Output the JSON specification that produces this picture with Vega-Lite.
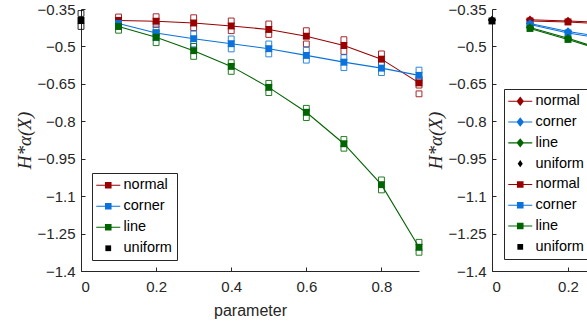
{
  "$schema": "https://vega.github.io/schema/vega-lite/v6.json",
  "autosize": {"type": "none"},
  "padding": {"left": 81, "top": 9, "right": 506, "bottom": 318},
  "background": "white",
  "config": {
    "view": {"stroke": null},
    "font": "Liberation Sans",
    "axis": {
      "grid": false,
      "domainColor": "#262626",
      "tickColor": "#262626",
      "labelColor": "#262626",
      "titleColor": "#262626",
      "labelFont": "Liberation Sans",
      "titleFont": "Liberation Sans",
      "labelFontSize": 15,
      "titleFontSize": 16,
      "titleFontWeight": "normal",
      "tickSize": -4,
      "domainWidth": 1,
      "tickWidth": 1
    },
    "legend": {
      "orient": "bottom-left",
      "offset": 11,
      "padding": 5,
      "rowPadding": 6,
      "symbolOffset": 4,
      "labelOffset": 8,
      "labelFont": "Liberation Sans",
      "labelFontSize": 14.5,
      "labelColor": "#000000",
      "symbolSize": 144,
      "symbolStrokeWidth": 0,
      "symbolOpacity": 1,
      "strokeColor": "#262626",
      "fillColor": "white"
    }
  },
  "datasets": {
    "meansA": [
      {"series": "uniform", "x": 0, "y": -0.396},
      {"series": "normal", "x": 0.1, "y": -0.396},
      {"series": "normal", "x": 0.2, "y": -0.399},
      {"series": "normal", "x": 0.3, "y": -0.406},
      {"series": "normal", "x": 0.4, "y": -0.418},
      {"series": "normal", "x": 0.5, "y": -0.432},
      {"series": "normal", "x": 0.6, "y": -0.459},
      {"series": "normal", "x": 0.7, "y": -0.496},
      {"series": "normal", "x": 0.8, "y": -0.551},
      {"series": "normal", "x": 0.9, "y": -0.646},
      {"series": "corner", "x": 0.1, "y": -0.408},
      {"series": "corner", "x": 0.2, "y": -0.446},
      {"series": "corner", "x": 0.3, "y": -0.469},
      {"series": "corner", "x": 0.4, "y": -0.489},
      {"series": "corner", "x": 0.5, "y": -0.509},
      {"series": "corner", "x": 0.6, "y": -0.536},
      {"series": "corner", "x": 0.7, "y": -0.563},
      {"series": "corner", "x": 0.8, "y": -0.587},
      {"series": "corner", "x": 0.9, "y": -0.616},
      {"series": "line", "x": 0.1, "y": -0.42},
      {"series": "line", "x": 0.2, "y": -0.463},
      {"series": "line", "x": 0.3, "y": -0.517},
      {"series": "line", "x": 0.4, "y": -0.58},
      {"series": "line", "x": 0.5, "y": -0.664},
      {"series": "line", "x": 0.6, "y": -0.764},
      {"series": "line", "x": 0.7, "y": -0.89},
      {"series": "line", "x": 0.8, "y": -1.054},
      {"series": "line", "x": 0.9, "y": -1.305}
    ],
    "trialsA": [
      {"series": "uniform", "x": 0, "y": -0.368},
      {"series": "uniform", "x": 0, "y": -0.42},
      {"series": "normal", "x": 0.1, "y": -0.382},
      {"series": "normal", "x": 0.1, "y": -0.405},
      {"series": "normal", "x": 0.2, "y": -0.381},
      {"series": "normal", "x": 0.2, "y": -0.412},
      {"series": "normal", "x": 0.3, "y": -0.385},
      {"series": "normal", "x": 0.3, "y": -0.425},
      {"series": "normal", "x": 0.4, "y": -0.398},
      {"series": "normal", "x": 0.4, "y": -0.437},
      {"series": "normal", "x": 0.5, "y": -0.41},
      {"series": "normal", "x": 0.5, "y": -0.452},
      {"series": "normal", "x": 0.6, "y": -0.437},
      {"series": "normal", "x": 0.6, "y": -0.49},
      {"series": "normal", "x": 0.7, "y": -0.473},
      {"series": "normal", "x": 0.7, "y": -0.52},
      {"series": "normal", "x": 0.8, "y": -0.53},
      {"series": "normal", "x": 0.8, "y": -0.565},
      {"series": "normal", "x": 0.9, "y": -0.63},
      {"series": "normal", "x": 0.9, "y": -0.655},
      {"series": "normal", "x": 0.9, "y": -0.69},
      {"series": "corner", "x": 0.1, "y": -0.395},
      {"series": "corner", "x": 0.1, "y": -0.42},
      {"series": "corner", "x": 0.2, "y": -0.43},
      {"series": "corner", "x": 0.2, "y": -0.465},
      {"series": "corner", "x": 0.3, "y": -0.45},
      {"series": "corner", "x": 0.3, "y": -0.49},
      {"series": "corner", "x": 0.4, "y": -0.47},
      {"series": "corner", "x": 0.4, "y": -0.51},
      {"series": "corner", "x": 0.5, "y": -0.49},
      {"series": "corner", "x": 0.5, "y": -0.53},
      {"series": "corner", "x": 0.6, "y": -0.515},
      {"series": "corner", "x": 0.6, "y": -0.555},
      {"series": "corner", "x": 0.7, "y": -0.545},
      {"series": "corner", "x": 0.7, "y": -0.585},
      {"series": "corner", "x": 0.8, "y": -0.565},
      {"series": "corner", "x": 0.8, "y": -0.605},
      {"series": "corner", "x": 0.9, "y": -0.595},
      {"series": "corner", "x": 0.9, "y": -0.635},
      {"series": "line", "x": 0.1, "y": -0.405},
      {"series": "line", "x": 0.1, "y": -0.435},
      {"series": "line", "x": 0.2, "y": -0.445},
      {"series": "line", "x": 0.2, "y": -0.485},
      {"series": "line", "x": 0.3, "y": -0.5},
      {"series": "line", "x": 0.3, "y": -0.54},
      {"series": "line", "x": 0.4, "y": -0.565},
      {"series": "line", "x": 0.4, "y": -0.6},
      {"series": "line", "x": 0.5, "y": -0.648},
      {"series": "line", "x": 0.5, "y": -0.685},
      {"series": "line", "x": 0.6, "y": -0.748},
      {"series": "line", "x": 0.6, "y": -0.785},
      {"series": "line", "x": 0.7, "y": -0.873},
      {"series": "line", "x": 0.7, "y": -0.908},
      {"series": "line", "x": 0.8, "y": -1.035},
      {"series": "line", "x": 0.8, "y": -1.075},
      {"series": "line", "x": 0.9, "y": -1.285},
      {"series": "line", "x": 0.9, "y": -1.325}
    ],
    "meansB": [
      {"series": "uniform-d", "x": 0, "y": -0.394},
      {"series": "normal-d", "x": 0.1, "y": -0.393},
      {"series": "normal-d", "x": 0.2, "y": -0.398},
      {"series": "normal-d", "x": 0.3, "y": -0.404},
      {"series": "corner-d", "x": 0.1, "y": -0.408},
      {"series": "corner-d", "x": 0.2, "y": -0.44},
      {"series": "corner-d", "x": 0.3, "y": -0.464},
      {"series": "line-d", "x": 0.1, "y": -0.424},
      {"series": "line-d", "x": 0.2, "y": -0.467},
      {"series": "line-d", "x": 0.3, "y": -0.516},
      {"series": "uniform-s", "x": 0, "y": -0.398},
      {"series": "normal-s", "x": 0.1, "y": -0.398},
      {"series": "normal-s", "x": 0.2, "y": -0.402},
      {"series": "normal-s", "x": 0.3, "y": -0.41},
      {"series": "corner-s", "x": 0.1, "y": -0.412},
      {"series": "corner-s", "x": 0.2, "y": -0.446},
      {"series": "corner-s", "x": 0.3, "y": -0.47},
      {"series": "line-s", "x": 0.1, "y": -0.428},
      {"series": "line-s", "x": 0.2, "y": -0.472},
      {"series": "line-s", "x": 0.3, "y": -0.52}
    ]
  },
  "bounds": "flush",
  "spacing": 73,
  "resolve": {"scale": {"color": "independent", "stroke": "independent", "fill": "independent", "shape": "independent"}, "legend": {"color": "independent", "shape": "independent"}},
  "hconcat": [
    {
      "width": 338,
      "height": 262,
      "encoding": {
        "x": {
          "field": "x", "type": "quantitative",
          "scale": {"domain": [0, 0.9], "nice": false, "zero": false},
          "axis": {"values": [0, 0.2, 0.4, 0.6, 0.8], "format": ".1~f", "title": "parameter", "labelPadding": 12, "titlePadding": 8}
        },
        "y": {
          "field": "y", "type": "quantitative",
          "scale": {"domain": [-1.4, -0.35], "nice": false, "zero": false},
          "axis": {
            "values": [-1.4, -1.25, -1.1, -0.95, -0.8, -0.65, -0.5, -0.35],
            "format": ".2~f",
            "title": "H*α(X)",
            "titleFont": "Liberation Serif",
            "titleFontStyle": "italic",
            "titleFontSize": 19,
            "labelPadding": 10,
            "titlePadding": 3
          }
        }
      },
      "layer": [
        {
          "data": {"name": "meansA"},
          "transform": [{"filter": "datum.series !== 'uniform'"}],
          "mark": {"type": "line", "strokeWidth": 1.1},
          "encoding": {
            "stroke": {
              "field": "series", "type": "nominal",
              "scale": {"domain": ["uniform", "normal", "corner", "line"], "range": ["#000000", "#990000", "#0B72DB", "#006400"]},
              "legend": null
            }
          }
        },
        {
          "data": {"name": "trialsA"},
          "mark": {"type": "point", "shape": "square", "filled": false, "size": 34, "strokeWidth": 1, "opacity": 0.85},
          "encoding": {
            "stroke": {
              "field": "series", "type": "nominal",
              "scale": {"domain": ["uniform", "normal", "corner", "line"], "range": ["#000000", "#990000", "#0B72DB", "#006400"]},
              "legend": null
            }
          }
        },
        {
          "data": {"name": "meansA"},
          "mark": {"type": "point", "shape": "square", "filled": true, "size": 48, "opacity": 1, "strokeWidth": 0},
          "encoding": {
            "fill": {
              "field": "series", "type": "nominal",
              "scale": {"domain": ["line", "corner", "normal", "uniform"], "range": ["#006400", "#0B72DB", "#990000", "#000000"]},
              "legend": null
            }
          }
        },
        {
          "data": {"name": "meansA"},
          "mark": {"type": "point", "filled": true, "size": 144, "opacity": 0, "strokeWidth": 0},
          "encoding": {
            "color": {
              "field": "series", "type": "nominal",
              "scale": {"domain": ["normal", "corner", "line", "uniform"], "range": ["#990000", "#0B72DB", "#006400", "#000000"]},
              "legend": {"title": null}
            },
            "shape": {
              "field": "series", "type": "nominal",
              "scale": {
                "domain": ["normal", "corner", "line", "uniform"],
                "range": [
                  "M-2,-0.09H2V0.09H-2Z M-0.55,-0.55H0.55V0.55H-0.55Z",
                  "M-2,-0.09H2V0.09H-2Z M-0.55,-0.55H0.55V0.55H-0.55Z",
                  "M-2,-0.09H2V0.09H-2Z M-0.55,-0.55H0.55V0.55H-0.55Z",
                  "M-0.48,-0.48H0.48V0.48H-0.48Z"
                ]
              },
              "legend": {"title": null}
            }
          }
        }
      ]
    },
    {
      "width": 342,
      "height": 262,
      "encoding": {
        "x": {
          "field": "x", "type": "quantitative",
          "scale": {"domain": [0, 0.9], "nice": false, "zero": false},
          "axis": {"values": [0, 0.2, 0.4, 0.6, 0.8], "format": ".1~f", "title": "parameter", "labelPadding": 12, "titlePadding": 8}
        },
        "y": {
          "field": "y", "type": "quantitative",
          "scale": {"domain": [-1.4, -0.35], "nice": false, "zero": false},
          "axis": {
            "values": [-1.4, -1.25, -1.1, -0.95, -0.8, -0.65, -0.5, -0.35],
            "format": ".2~f",
            "title": "H*α(X)",
            "titleFont": "Liberation Serif",
            "titleFontStyle": "italic",
            "titleFontSize": 19,
            "labelPadding": 10,
            "titlePadding": 3
          }
        }
      },
      "layer": [
        {
          "data": {"name": "meansB"},
          "transform": [{"filter": "indexof(datum.series, 'uniform') !== 0"}],
          "mark": {"type": "line", "strokeWidth": 1.1},
          "encoding": {
            "stroke": {
              "field": "series", "type": "nominal",
              "scale": {
                "domain": ["normal-d", "normal-s", "corner-d", "corner-s", "line-d", "line-s"],
                "range": ["#990000", "#990000", "#0B72DB", "#0B72DB", "#006400", "#006400"]
              },
              "legend": null
            }
          }
        },
        {
          "data": {"name": "meansB"},
          "transform": [{"filter": "indexof(datum.series, '-s') > 0"}],
          "mark": {"type": "point", "shape": "square", "filled": true, "size": 48, "opacity": 1, "strokeWidth": 0},
          "encoding": {
            "fill": {
              "field": "series", "type": "nominal",
              "scale": {
                "domain": ["uniform-d", "uniform-s", "normal-d", "normal-s", "corner-d", "corner-s", "line-d", "line-s"],
                "range": ["#000000", "#000000", "#990000", "#990000", "#0B72DB", "#0B72DB", "#006400", "#006400"]
              },
              "legend": null
            }
          }
        },
        {
          "data": {"name": "meansB"},
          "transform": [{"filter": "indexof(datum.series, '-d') > 0"}],
          "mark": {"type": "point", "shape": "diamond", "filled": true, "size": 72, "opacity": 1, "strokeWidth": 0},
          "encoding": {
            "fill": {
              "field": "series", "type": "nominal",
              "scale": {
                "domain": ["uniform-d", "uniform-s", "normal-d", "normal-s", "corner-d", "corner-s", "line-d", "line-s"],
                "range": ["#000000", "#000000", "#990000", "#990000", "#0B72DB", "#0B72DB", "#006400", "#006400"]
              },
              "legend": null
            }
          }
        },
        {
          "data": {"name": "meansB"},
          "mark": {"type": "point", "filled": true, "size": 144, "opacity": 0, "strokeWidth": 0},
          "encoding": {
            "color": {
              "field": "series", "type": "nominal",
              "scale": {
                "domain": ["normal-d", "corner-d", "line-d", "uniform-d", "normal-s", "corner-s", "line-s", "uniform-s"],
                "range": ["#990000", "#0B72DB", "#006400", "#000000", "#990000", "#0B72DB", "#006400", "#000000"]
              },
              "legend": {"title": null, "offset": 12, "rowPadding": 5.8, "labelExpr": "split(datum.label, '-')[0]"}
            },
            "shape": {
              "field": "series", "type": "nominal",
              "scale": {
                "domain": ["normal-d", "corner-d", "line-d", "uniform-d", "normal-s", "corner-s", "line-s", "uniform-s"],
                "range": [
                  "M-2,-0.09H2V0.09H-2Z M0,-0.78L0.62,0L0,0.78L-0.62,0Z",
                  "M-2,-0.09H2V0.09H-2Z M0,-0.78L0.62,0L0,0.78L-0.62,0Z",
                  "M-2,-0.09H2V0.09H-2Z M0,-0.78L0.62,0L0,0.78L-0.62,0Z",
                  "M0,-0.62L0.42,0L0,0.62L-0.42,0Z",
                  "M-2,-0.09H2V0.09H-2Z M-0.55,-0.55H0.55V0.55H-0.55Z",
                  "M-2,-0.09H2V0.09H-2Z M-0.55,-0.55H0.55V0.55H-0.55Z",
                  "M-2,-0.09H2V0.09H-2Z M-0.55,-0.55H0.55V0.55H-0.55Z",
                  "M-0.48,-0.48H0.48V0.48H-0.48Z"
                ]
              },
              "legend": {"title": null, "offset": 12, "rowPadding": 5.8, "labelExpr": "split(datum.label, '-')[0]"}
            }
          }
        }
      ]
    }
  ]
}
